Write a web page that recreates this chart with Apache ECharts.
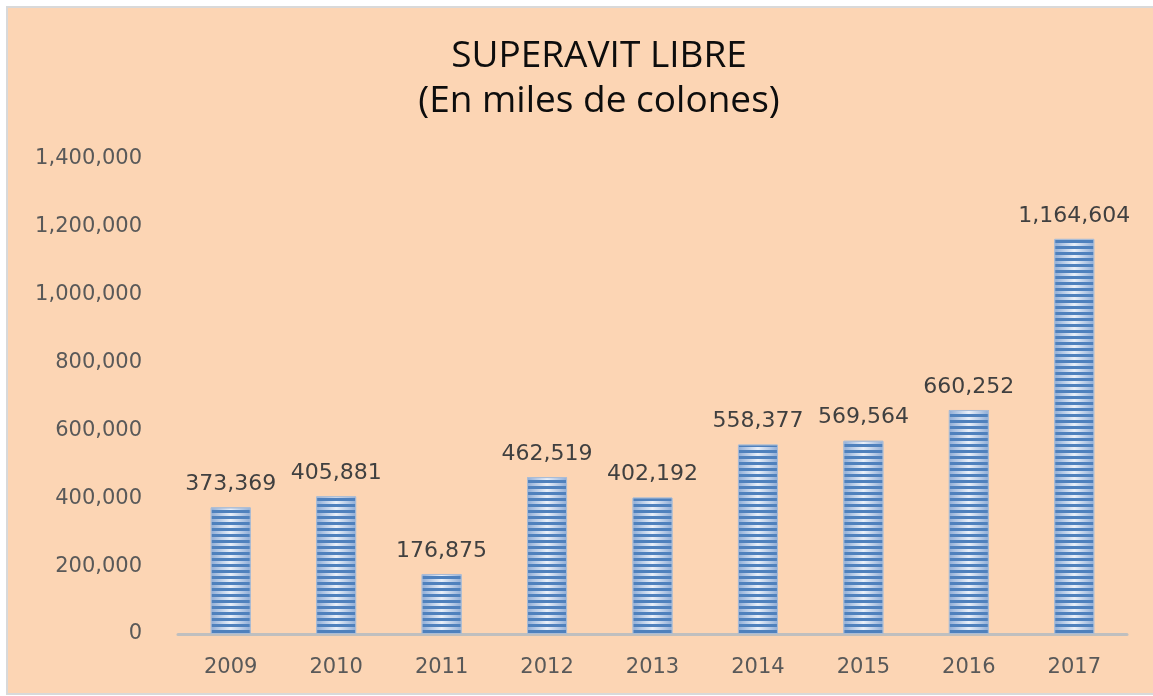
<!DOCTYPE html>
<html>
<head>
<meta charset="utf-8">
<style>
  html, body { margin: 0; padding: 0; background: #ffffff; }
  #chart { width: 1153px; height: 696px; }
</style>
<script src="https://cdn.jsdelivr.net/npm/echarts@6/dist/echarts.min.js"></script>
</head>
<body>
<div id="chart"></div>
<script>
// datos del gráfico
const years = ['2009', '2010', '2011', '2012', '2013', '2014', '2015', '2016', '2017'];
const superavit = [373369, 405881, 176875, 462519, 402192, 558377, 569564, 660252, 1164604];
const yMax = 1400000;
const yStep = 200000;

const fmt = (v) => String(v).replace(/\B(?=(\d{3})+(?!\d))/g, ',');

const chart = echarts.init(document.getElementById('chart'));

const option = {
  backgroundColor: '#ffffff',
  animation: false,
  graphic: [{
    type: 'rect',
    shape: { x: 7, y: 7, width: 1160, height: 687 },
    style: { fill: '#FCD5B4', stroke: '#D9D9D9', lineWidth: 2 },
    z: -10
  }],
  title: {
    text: 'SUPERAVIT LIBRE\n(En miles de colones)',
    left: 594,
    top: 29,
    textAlign: 'center',
    textStyle: {
      fontFamily: 'Open Sans',
      fontSize: 37,
      fontWeight: 'normal',
      color: '#0d0d0d',
      lineHeight: 45
    }
  },
  grid: { left: 178, right: 26, top: 159, bottom: 62 },
  xAxis: {
    type: 'category',
    data: years,
    axisLine: { lineStyle: { color: '#BFBFBF', width: 3 } },
    axisTick: { show: false },
    axisLabel: {
      margin: 23,
      fontFamily: 'DejaVu Sans',
      fontSize: 21,
      color: '#595959'
    }
  },
  yAxis: {
    type: 'value',
    min: 0,
    max: yMax,
    interval: yStep,
    splitLine: { show: false },
    axisLine: { show: false },
    axisTick: { show: false },
    axisLabel: {
      margin: 36,
      fontFamily: 'DejaVu Sans',
      fontSize: 21,
      color: '#595959',
      padding: [6, 0, 0, 0],
      formatter: fmt
    }
  },
  series: [{
    type: 'bar',
    data: superavit,
    barWidth: 40,
    itemStyle: {
      color: new echarts.graphic.LinearGradient(0, 0, 1, 0, [
        { offset: 0, color: '#8eacd6' },
        { offset: 0.5, color: '#eaf0f9' },
        { offset: 1, color: '#8eacd6' }
      ]),
      borderColor: '#a9bcd6',
      borderWidth: 1,
      decal: {
        symbol: 'rect',
        symbolSize: 1,
        dashArrayX: [1, 0],
        dashArrayY: [2.4, 2.8],
        rotation: 0,
        color: '#4f81bd'
      }
    },
    label: {
      show: true,
      position: 'top',
      distance: 12,
      fontFamily: 'DejaVu Sans',
      fontSize: 22,
      color: '#404040',
      formatter: (p) => fmt(p.value)
    }
  }]
};

chart.setOption(option);
</script>
</body>
</html>
